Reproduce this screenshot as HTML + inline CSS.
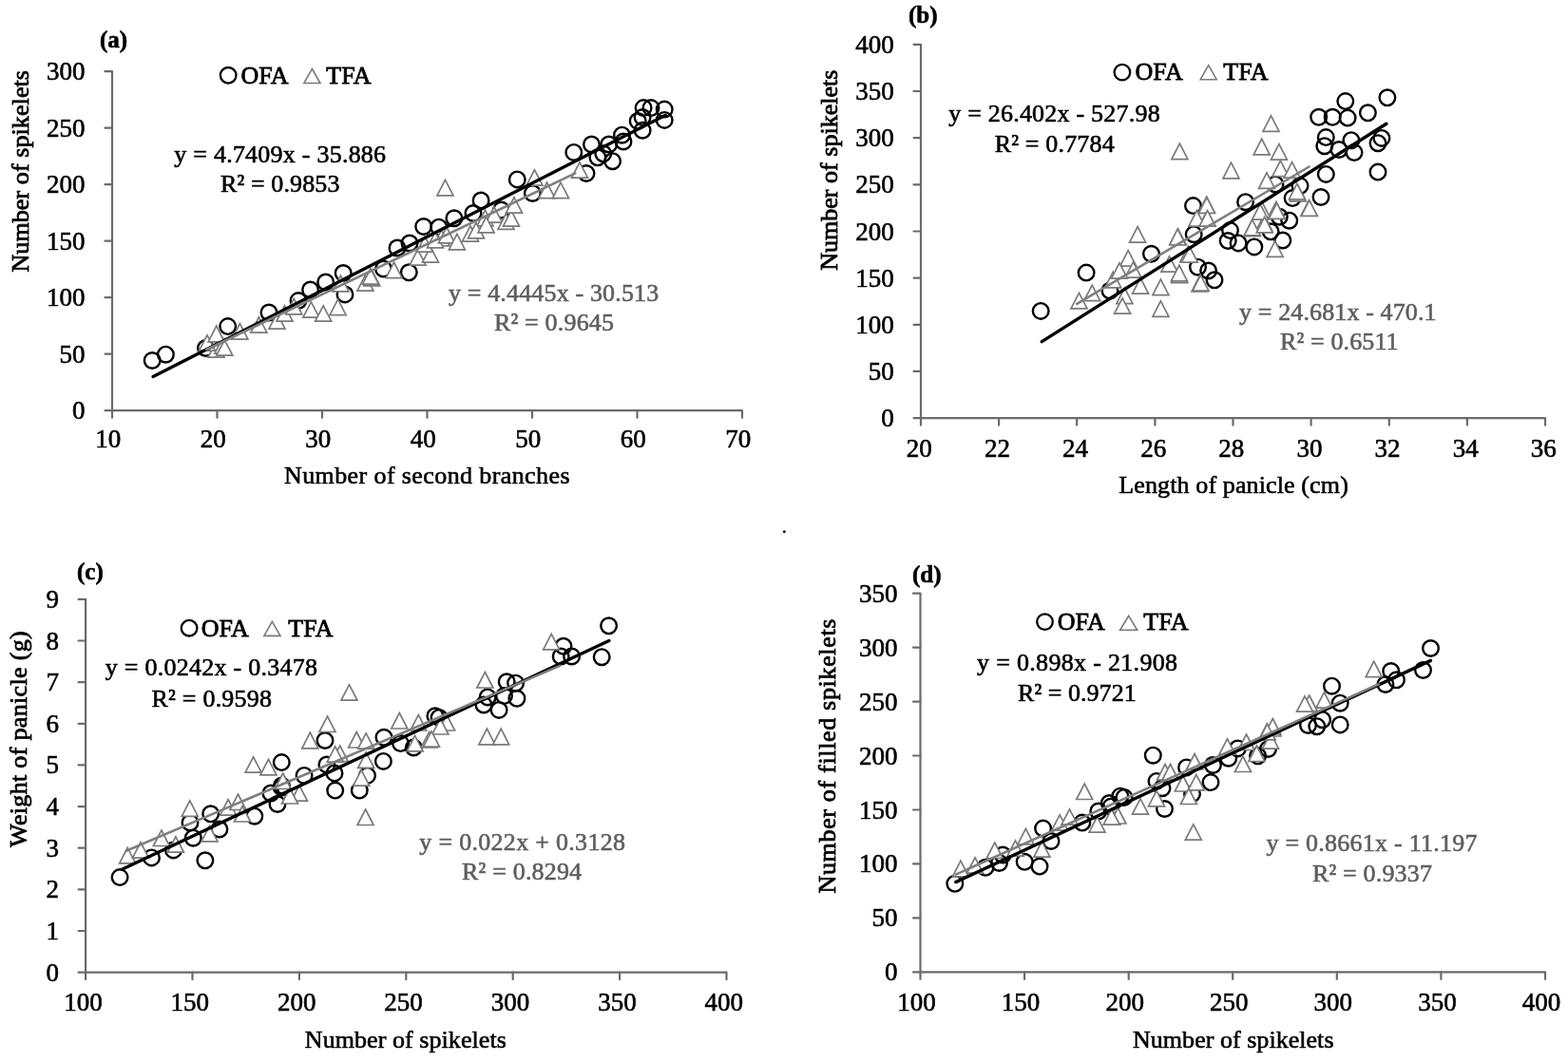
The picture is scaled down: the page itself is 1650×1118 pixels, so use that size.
<!DOCTYPE html>
<html><head><meta charset="utf-8"><title>Figure</title>
<style>html,body{margin:0;padding:0;background:#fff;}svg{display:block;}</style>
</head><body>
<svg width="1650" height="1118" viewBox="0 0 1650 1118" font-family='"Liberation Serif", "Times New Roman", serif'>
<rect width="1650" height="1118" fill="#fff"/>
<path d="M118.0 75.2V432.2H781.0" fill="none" stroke="#6b6b6b" stroke-width="2.2"/>
<path d="M110.5 432.2H118.0M110.5 372.7H118.0M110.5 313.2H118.0M110.5 253.7H118.0M110.5 194.2H118.0M110.5 134.7H118.0M110.5 75.2H118.0M118.0 432.2V439.7M228.5 432.2V439.7M339.0 432.2V439.7M449.5 432.2V439.7M560.0 432.2V439.7M670.5 432.2V439.7M781.0 432.2V439.7" fill="none" stroke="#6b6b6b" stroke-width="2.2" stroke-linecap="round"/>
<text x="89.5" y="441.2" font-size="27" fill="#000" text-anchor="end" stroke="#000" stroke-width="0.6">0</text>
<text x="89.5" y="381.7" font-size="27" fill="#000" text-anchor="end" stroke="#000" stroke-width="0.6">50</text>
<text x="89.5" y="322.2" font-size="27" fill="#000" text-anchor="end" stroke="#000" stroke-width="0.6">100</text>
<text x="89.5" y="262.7" font-size="27" fill="#000" text-anchor="end" stroke="#000" stroke-width="0.6">150</text>
<text x="89.5" y="203.2" font-size="27" fill="#000" text-anchor="end" stroke="#000" stroke-width="0.6">200</text>
<text x="89.5" y="143.7" font-size="27" fill="#000" text-anchor="end" stroke="#000" stroke-width="0.6">250</text>
<text x="89.5" y="84.2" font-size="27" fill="#000" text-anchor="end" stroke="#000" stroke-width="0.6">300</text>
<text x="113.8" y="471.3" font-size="27" fill="#000" text-anchor="middle" stroke="#000" stroke-width="0.6">10</text>
<text x="224.3" y="471.3" font-size="27" fill="#000" text-anchor="middle" stroke="#000" stroke-width="0.6">20</text>
<text x="334.8" y="471.3" font-size="27" fill="#000" text-anchor="middle" stroke="#000" stroke-width="0.6">30</text>
<text x="445.3" y="471.3" font-size="27" fill="#000" text-anchor="middle" stroke="#000" stroke-width="0.6">40</text>
<text x="555.8" y="471.3" font-size="27" fill="#000" text-anchor="middle" stroke="#000" stroke-width="0.6">50</text>
<text x="666.3" y="471.3" font-size="27" fill="#000" text-anchor="middle" stroke="#000" stroke-width="0.6">60</text>
<text x="776.8" y="471.3" font-size="27" fill="#000" text-anchor="middle" stroke="#000" stroke-width="0.6">70</text>
<text x="105.0" y="50.0" font-size="25" font-weight="bold" fill="#000" stroke="#000" stroke-width="0.6">(a)</text>
<text x="299.0" y="509.0" font-size="26" fill="#000" textLength="300.5" lengthAdjust="spacing" stroke="#000" stroke-width="0.6">Number of second branches</text>
<text transform="translate(29.5,286.5) rotate(-90)" font-size="26" textLength="212.5" lengthAdjust="spacing" stroke="#000" stroke-width="0.8">Number of spikelets</text>
<path d="M969.0 46.8V440.1H1626.0" fill="none" stroke="#6b6b6b" stroke-width="2.2"/>
<path d="M961.5 440.1H969.0M961.5 390.9H969.0M961.5 341.8H969.0M961.5 292.6H969.0M961.5 243.5H969.0M961.5 194.3H969.0M961.5 145.1H969.0M961.5 96.0H969.0M961.5 46.8H969.0M969.0 440.1V447.6M1051.1 440.1V447.6M1133.2 440.1V447.6M1215.4 440.1V447.6M1297.5 440.1V447.6M1379.6 440.1V447.6M1461.8 440.1V447.6M1543.9 440.1V447.6M1626.0 440.1V447.6" fill="none" stroke="#6b6b6b" stroke-width="2.2" stroke-linecap="round"/>
<text x="940.7" y="449.1" font-size="27" fill="#000" text-anchor="end" stroke="#000" stroke-width="0.6">0</text>
<text x="940.7" y="399.9" font-size="27" fill="#000" text-anchor="end" stroke="#000" stroke-width="0.6">50</text>
<text x="940.7" y="350.8" font-size="27" fill="#000" text-anchor="end" stroke="#000" stroke-width="0.6">100</text>
<text x="940.7" y="301.6" font-size="27" fill="#000" text-anchor="end" stroke="#000" stroke-width="0.6">150</text>
<text x="940.7" y="252.5" font-size="27" fill="#000" text-anchor="end" stroke="#000" stroke-width="0.6">200</text>
<text x="940.7" y="203.3" font-size="27" fill="#000" text-anchor="end" stroke="#000" stroke-width="0.6">250</text>
<text x="940.7" y="154.1" font-size="27" fill="#000" text-anchor="end" stroke="#000" stroke-width="0.6">300</text>
<text x="940.7" y="105.0" font-size="27" fill="#000" text-anchor="end" stroke="#000" stroke-width="0.6">350</text>
<text x="940.7" y="55.8" font-size="27" fill="#000" text-anchor="end" stroke="#000" stroke-width="0.6">400</text>
<text x="967.3" y="481.0" font-size="27" fill="#000" text-anchor="middle" stroke="#000" stroke-width="0.6">20</text>
<text x="1049.4" y="481.0" font-size="27" fill="#000" text-anchor="middle" stroke="#000" stroke-width="0.6">22</text>
<text x="1131.5" y="481.0" font-size="27" fill="#000" text-anchor="middle" stroke="#000" stroke-width="0.6">24</text>
<text x="1213.7" y="481.0" font-size="27" fill="#000" text-anchor="middle" stroke="#000" stroke-width="0.6">26</text>
<text x="1295.8" y="481.0" font-size="27" fill="#000" text-anchor="middle" stroke="#000" stroke-width="0.6">28</text>
<text x="1377.9" y="481.0" font-size="27" fill="#000" text-anchor="middle" stroke="#000" stroke-width="0.6">30</text>
<text x="1460.0" y="481.0" font-size="27" fill="#000" text-anchor="middle" stroke="#000" stroke-width="0.6">32</text>
<text x="1542.2" y="481.0" font-size="27" fill="#000" text-anchor="middle" stroke="#000" stroke-width="0.6">34</text>
<text x="1624.3" y="481.0" font-size="27" fill="#000" text-anchor="middle" stroke="#000" stroke-width="0.6">36</text>
<text x="956.0" y="23.5" font-size="25" font-weight="bold" fill="#000" stroke="#000" stroke-width="0.6">(b)</text>
<text x="1177.3" y="518.7" font-size="26" fill="#000" textLength="241.5" lengthAdjust="spacing" stroke="#000" stroke-width="0.6">Length of panicle (cm)</text>
<text transform="translate(880.5,284.8) rotate(-90)" font-size="26" textLength="211.3" lengthAdjust="spacing" stroke="#000" stroke-width="0.8">Number of spikelets</text>
<path d="M90.1 630.9V1023.6H764.5" fill="none" stroke="#6b6b6b" stroke-width="2.2"/>
<path d="M82.6 1023.6H90.1M82.6 980.0H90.1M82.6 936.3H90.1M82.6 892.7H90.1M82.6 849.1H90.1M82.6 805.4H90.1M82.6 761.8H90.1M82.6 718.2H90.1M82.6 674.5H90.1M82.6 630.9H90.1M90.1 1023.6V1031.1M202.5 1023.6V1031.1M314.9 1023.6V1031.1M427.3 1023.6V1031.1M539.7 1023.6V1031.1M652.1 1023.6V1031.1M764.5 1023.6V1031.1" fill="none" stroke="#6b6b6b" stroke-width="2.2" stroke-linecap="round"/>
<text x="62.0" y="1032.6" font-size="27" fill="#000" text-anchor="end" stroke="#000" stroke-width="0.6">0</text>
<text x="62.0" y="989.0" font-size="27" fill="#000" text-anchor="end" stroke="#000" stroke-width="0.6">1</text>
<text x="62.0" y="945.3" font-size="27" fill="#000" text-anchor="end" stroke="#000" stroke-width="0.6">2</text>
<text x="62.0" y="901.7" font-size="27" fill="#000" text-anchor="end" stroke="#000" stroke-width="0.6">3</text>
<text x="62.0" y="858.1" font-size="27" fill="#000" text-anchor="end" stroke="#000" stroke-width="0.6">4</text>
<text x="62.0" y="814.4" font-size="27" fill="#000" text-anchor="end" stroke="#000" stroke-width="0.6">5</text>
<text x="62.0" y="770.8" font-size="27" fill="#000" text-anchor="end" stroke="#000" stroke-width="0.6">6</text>
<text x="62.0" y="727.2" font-size="27" fill="#000" text-anchor="end" stroke="#000" stroke-width="0.6">7</text>
<text x="62.0" y="683.5" font-size="27" fill="#000" text-anchor="end" stroke="#000" stroke-width="0.6">8</text>
<text x="62.0" y="639.9" font-size="27" fill="#000" text-anchor="end" stroke="#000" stroke-width="0.6">9</text>
<text x="87.4" y="1064.4" font-size="27" fill="#000" text-anchor="middle" stroke="#000" stroke-width="0.6">100</text>
<text x="199.8" y="1064.4" font-size="27" fill="#000" text-anchor="middle" stroke="#000" stroke-width="0.6">150</text>
<text x="312.2" y="1064.4" font-size="27" fill="#000" text-anchor="middle" stroke="#000" stroke-width="0.6">200</text>
<text x="424.6" y="1064.4" font-size="27" fill="#000" text-anchor="middle" stroke="#000" stroke-width="0.6">250</text>
<text x="537.0" y="1064.4" font-size="27" fill="#000" text-anchor="middle" stroke="#000" stroke-width="0.6">300</text>
<text x="649.4" y="1064.4" font-size="27" fill="#000" text-anchor="middle" stroke="#000" stroke-width="0.6">350</text>
<text x="761.8" y="1064.4" font-size="27" fill="#000" text-anchor="middle" stroke="#000" stroke-width="0.6">400</text>
<text x="81.0" y="610.4" font-size="25" font-weight="bold" fill="#000" stroke="#000" stroke-width="0.6">(c)</text>
<text x="320.8" y="1102.5" font-size="26" fill="#000" textLength="212.0" lengthAdjust="spacing" stroke="#000" stroke-width="0.6">Number of spikelets</text>
<text transform="translate(27.5,891.9) rotate(-90)" font-size="26" textLength="227.6" lengthAdjust="spacing" stroke="#000" stroke-width="0.8">Weight of panicle (g)</text>
<path d="M968.5 624.7V1023.3H1626.0" fill="none" stroke="#6b6b6b" stroke-width="2.2"/>
<path d="M961.0 1023.3H968.5M961.0 966.4H968.5M961.0 909.4H968.5M961.0 852.5H968.5M961.0 795.5H968.5M961.0 738.6H968.5M961.0 681.6H968.5M961.0 624.7H968.5M968.5 1023.3V1030.8M1078.1 1023.3V1030.8M1187.7 1023.3V1030.8M1297.2 1023.3V1030.8M1406.8 1023.3V1030.8M1516.4 1023.3V1030.8M1626.0 1023.3V1030.8" fill="none" stroke="#6b6b6b" stroke-width="2.2" stroke-linecap="round"/>
<text x="944.5" y="1032.3" font-size="27" fill="#000" text-anchor="end" stroke="#000" stroke-width="0.6">0</text>
<text x="944.5" y="975.4" font-size="27" fill="#000" text-anchor="end" stroke="#000" stroke-width="0.6">50</text>
<text x="944.5" y="918.4" font-size="27" fill="#000" text-anchor="end" stroke="#000" stroke-width="0.6">100</text>
<text x="944.5" y="861.5" font-size="27" fill="#000" text-anchor="end" stroke="#000" stroke-width="0.6">150</text>
<text x="944.5" y="804.5" font-size="27" fill="#000" text-anchor="end" stroke="#000" stroke-width="0.6">200</text>
<text x="944.5" y="747.6" font-size="27" fill="#000" text-anchor="end" stroke="#000" stroke-width="0.6">250</text>
<text x="944.5" y="690.6" font-size="27" fill="#000" text-anchor="end" stroke="#000" stroke-width="0.6">300</text>
<text x="944.5" y="633.7" font-size="27" fill="#000" text-anchor="end" stroke="#000" stroke-width="0.6">350</text>
<text x="964.5" y="1064.4" font-size="27" fill="#000" text-anchor="middle" stroke="#000" stroke-width="0.6">100</text>
<text x="1074.1" y="1064.4" font-size="27" fill="#000" text-anchor="middle" stroke="#000" stroke-width="0.6">150</text>
<text x="1183.7" y="1064.4" font-size="27" fill="#000" text-anchor="middle" stroke="#000" stroke-width="0.6">200</text>
<text x="1293.2" y="1064.4" font-size="27" fill="#000" text-anchor="middle" stroke="#000" stroke-width="0.6">250</text>
<text x="1402.8" y="1064.4" font-size="27" fill="#000" text-anchor="middle" stroke="#000" stroke-width="0.6">300</text>
<text x="1512.4" y="1064.4" font-size="27" fill="#000" text-anchor="middle" stroke="#000" stroke-width="0.6">350</text>
<text x="1622.0" y="1064.4" font-size="27" fill="#000" text-anchor="middle" stroke="#000" stroke-width="0.6">400</text>
<text x="960.0" y="612.6" font-size="25" font-weight="bold" fill="#000" stroke="#000" stroke-width="0.6">(d)</text>
<text x="1192.0" y="1102.5" font-size="26" fill="#000" textLength="211.5" lengthAdjust="spacing" stroke="#000" stroke-width="0.6">Number of spikelets</text>
<text transform="translate(879.0,940.5) rotate(-90)" font-size="26" textLength="289.0" lengthAdjust="spacing" stroke="#000" stroke-width="0.8">Number of filled  spikelets</text>
<circle cx="160.2" cy="379.5" r="8.3" fill="none" stroke="#000" stroke-width="2.4"/>
<circle cx="174.4" cy="373.2" r="8.3" fill="none" stroke="#000" stroke-width="2.4"/>
<circle cx="216.5" cy="366.5" r="8.3" fill="none" stroke="#000" stroke-width="2.4"/>
<circle cx="239.7" cy="343.6" r="8.3" fill="none" stroke="#000" stroke-width="2.4"/>
<circle cx="283.0" cy="329.0" r="8.3" fill="none" stroke="#000" stroke-width="2.4"/>
<circle cx="314.0" cy="316.6" r="8.3" fill="none" stroke="#000" stroke-width="2.4"/>
<circle cx="326.6" cy="305.0" r="8.3" fill="none" stroke="#000" stroke-width="2.4"/>
<circle cx="342.7" cy="297.0" r="8.3" fill="none" stroke="#000" stroke-width="2.4"/>
<circle cx="361.2" cy="287.5" r="8.3" fill="none" stroke="#000" stroke-width="2.4"/>
<circle cx="363.0" cy="309.9" r="8.3" fill="none" stroke="#000" stroke-width="2.4"/>
<circle cx="403.5" cy="283.0" r="8.3" fill="none" stroke="#000" stroke-width="2.4"/>
<circle cx="418.0" cy="261.0" r="8.3" fill="none" stroke="#000" stroke-width="2.4"/>
<circle cx="431.0" cy="256.0" r="8.3" fill="none" stroke="#000" stroke-width="2.4"/>
<circle cx="430.3" cy="286.8" r="8.3" fill="none" stroke="#000" stroke-width="2.4"/>
<circle cx="445.7" cy="238.5" r="8.3" fill="none" stroke="#000" stroke-width="2.4"/>
<circle cx="461.8" cy="239.2" r="8.3" fill="none" stroke="#000" stroke-width="2.4"/>
<circle cx="477.9" cy="229.8" r="8.3" fill="none" stroke="#000" stroke-width="2.4"/>
<circle cx="498.0" cy="224.5" r="8.3" fill="none" stroke="#000" stroke-width="2.4"/>
<circle cx="506.1" cy="211.0" r="8.3" fill="none" stroke="#000" stroke-width="2.4"/>
<circle cx="527.6" cy="221.1" r="8.3" fill="none" stroke="#000" stroke-width="2.4"/>
<circle cx="544.3" cy="188.9" r="8.3" fill="none" stroke="#000" stroke-width="2.4"/>
<circle cx="560.4" cy="203.5" r="8.3" fill="none" stroke="#000" stroke-width="2.4"/>
<circle cx="603.8" cy="160.4" r="8.3" fill="none" stroke="#000" stroke-width="2.4"/>
<circle cx="622.5" cy="152.0" r="8.3" fill="none" stroke="#000" stroke-width="2.4"/>
<circle cx="617.0" cy="182.5" r="8.3" fill="none" stroke="#000" stroke-width="2.4"/>
<circle cx="628.9" cy="165.8" r="8.3" fill="none" stroke="#000" stroke-width="2.4"/>
<circle cx="640.7" cy="152.0" r="8.3" fill="none" stroke="#000" stroke-width="2.4"/>
<circle cx="644.6" cy="169.7" r="8.3" fill="none" stroke="#000" stroke-width="2.4"/>
<circle cx="634.8" cy="161.8" r="8.3" fill="none" stroke="#000" stroke-width="2.4"/>
<circle cx="654.5" cy="142.2" r="8.3" fill="none" stroke="#000" stroke-width="2.4"/>
<circle cx="656.0" cy="149.0" r="8.3" fill="none" stroke="#000" stroke-width="2.4"/>
<circle cx="676.1" cy="137.2" r="8.3" fill="none" stroke="#000" stroke-width="2.4"/>
<circle cx="676.1" cy="123.5" r="8.3" fill="none" stroke="#000" stroke-width="2.4"/>
<circle cx="677.1" cy="113.6" r="8.3" fill="none" stroke="#000" stroke-width="2.4"/>
<circle cx="685.0" cy="113.6" r="8.3" fill="none" stroke="#000" stroke-width="2.4"/>
<circle cx="699.2" cy="115.1" r="8.3" fill="none" stroke="#000" stroke-width="2.4"/>
<circle cx="699.2" cy="126.4" r="8.3" fill="none" stroke="#000" stroke-width="2.4"/>
<circle cx="671.2" cy="127.4" r="8.3" fill="none" stroke="#000" stroke-width="2.4"/>
<circle cx="1095.2" cy="327.4" r="8.3" fill="none" stroke="#000" stroke-width="2.4"/>
<circle cx="1143.1" cy="287.1" r="8.3" fill="none" stroke="#000" stroke-width="2.4"/>
<circle cx="1211.5" cy="267.3" r="8.3" fill="none" stroke="#000" stroke-width="2.4"/>
<circle cx="1255.5" cy="216.6" r="8.3" fill="none" stroke="#000" stroke-width="2.4"/>
<circle cx="1256.2" cy="246.7" r="8.3" fill="none" stroke="#000" stroke-width="2.4"/>
<circle cx="1260.5" cy="281.2" r="8.3" fill="none" stroke="#000" stroke-width="2.4"/>
<circle cx="1271.6" cy="285.0" r="8.3" fill="none" stroke="#000" stroke-width="2.4"/>
<circle cx="1278.0" cy="294.8" r="8.3" fill="none" stroke="#000" stroke-width="2.4"/>
<circle cx="1168.0" cy="306.0" r="8.3" fill="none" stroke="#000" stroke-width="2.4"/>
<circle cx="1292.2" cy="253.5" r="8.3" fill="none" stroke="#000" stroke-width="2.4"/>
<circle cx="1303.1" cy="255.9" r="8.3" fill="none" stroke="#000" stroke-width="2.4"/>
<circle cx="1319.8" cy="259.9" r="8.3" fill="none" stroke="#000" stroke-width="2.4"/>
<circle cx="1337.1" cy="243.8" r="8.3" fill="none" stroke="#000" stroke-width="2.4"/>
<circle cx="1349.8" cy="253.0" r="8.3" fill="none" stroke="#000" stroke-width="2.4"/>
<circle cx="1346.3" cy="228.2" r="8.3" fill="none" stroke="#000" stroke-width="2.4"/>
<circle cx="1356.7" cy="232.2" r="8.3" fill="none" stroke="#000" stroke-width="2.4"/>
<circle cx="1360.1" cy="208.6" r="8.3" fill="none" stroke="#000" stroke-width="2.4"/>
<circle cx="1390.0" cy="207.5" r="8.3" fill="none" stroke="#000" stroke-width="2.4"/>
<circle cx="1310.6" cy="212.7" r="8.3" fill="none" stroke="#000" stroke-width="2.4"/>
<circle cx="1294.5" cy="242.6" r="8.3" fill="none" stroke="#000" stroke-width="2.4"/>
<circle cx="1415.8" cy="106.6" r="8.3" fill="none" stroke="#000" stroke-width="2.4"/>
<circle cx="1459.9" cy="102.8" r="8.3" fill="none" stroke="#000" stroke-width="2.4"/>
<circle cx="1387.7" cy="123.3" r="8.3" fill="none" stroke="#000" stroke-width="2.4"/>
<circle cx="1402.2" cy="123.3" r="8.3" fill="none" stroke="#000" stroke-width="2.4"/>
<circle cx="1418.1" cy="124.1" r="8.3" fill="none" stroke="#000" stroke-width="2.4"/>
<circle cx="1439.4" cy="118.8" r="8.3" fill="none" stroke="#000" stroke-width="2.4"/>
<circle cx="1395.3" cy="144.6" r="8.3" fill="none" stroke="#000" stroke-width="2.4"/>
<circle cx="1393.8" cy="153.7" r="8.3" fill="none" stroke="#000" stroke-width="2.4"/>
<circle cx="1421.9" cy="147.7" r="8.3" fill="none" stroke="#000" stroke-width="2.4"/>
<circle cx="1425.0" cy="160.6" r="8.3" fill="none" stroke="#000" stroke-width="2.4"/>
<circle cx="1450.0" cy="150.7" r="8.3" fill="none" stroke="#000" stroke-width="2.4"/>
<circle cx="1453.9" cy="145.4" r="8.3" fill="none" stroke="#000" stroke-width="2.4"/>
<circle cx="1450.0" cy="181.1" r="8.3" fill="none" stroke="#000" stroke-width="2.4"/>
<circle cx="1395.3" cy="183.4" r="8.3" fill="none" stroke="#000" stroke-width="2.4"/>
<circle cx="1409.0" cy="157.5" r="8.3" fill="none" stroke="#000" stroke-width="2.4"/>
<circle cx="1342.0" cy="194.0" r="8.3" fill="none" stroke="#000" stroke-width="2.4"/>
<circle cx="1368.0" cy="195.6" r="8.3" fill="none" stroke="#000" stroke-width="2.4"/>
<circle cx="126.1" cy="923.6" r="8.3" fill="none" stroke="#000" stroke-width="2.4"/>
<circle cx="215.9" cy="905.8" r="8.3" fill="none" stroke="#000" stroke-width="2.4"/>
<circle cx="221.7" cy="856.8" r="8.3" fill="none" stroke="#000" stroke-width="2.4"/>
<circle cx="230.9" cy="873.0" r="8.3" fill="none" stroke="#000" stroke-width="2.4"/>
<circle cx="203.3" cy="882.2" r="8.3" fill="none" stroke="#000" stroke-width="2.4"/>
<circle cx="200.0" cy="866.0" r="8.3" fill="none" stroke="#000" stroke-width="2.4"/>
<circle cx="159.5" cy="902.9" r="8.3" fill="none" stroke="#000" stroke-width="2.4"/>
<circle cx="182.5" cy="894.9" r="8.3" fill="none" stroke="#000" stroke-width="2.4"/>
<circle cx="267.8" cy="859.2" r="8.3" fill="none" stroke="#000" stroke-width="2.4"/>
<circle cx="285.0" cy="835.0" r="8.3" fill="none" stroke="#000" stroke-width="2.4"/>
<circle cx="292.0" cy="846.5" r="8.3" fill="none" stroke="#000" stroke-width="2.4"/>
<circle cx="296.5" cy="827.0" r="8.3" fill="none" stroke="#000" stroke-width="2.4"/>
<circle cx="296.3" cy="802.6" r="8.3" fill="none" stroke="#000" stroke-width="2.4"/>
<circle cx="320.1" cy="816.4" r="8.3" fill="none" stroke="#000" stroke-width="2.4"/>
<circle cx="296.3" cy="828.9" r="8.3" fill="none" stroke="#000" stroke-width="2.4"/>
<circle cx="342.0" cy="779.5" r="8.3" fill="none" stroke="#000" stroke-width="2.4"/>
<circle cx="352.0" cy="813.9" r="8.3" fill="none" stroke="#000" stroke-width="2.4"/>
<circle cx="352.7" cy="832.1" r="8.3" fill="none" stroke="#000" stroke-width="2.4"/>
<circle cx="343.9" cy="805.0" r="8.3" fill="none" stroke="#000" stroke-width="2.4"/>
<circle cx="378.3" cy="832.1" r="8.3" fill="none" stroke="#000" stroke-width="2.4"/>
<circle cx="386.5" cy="816.4" r="8.3" fill="none" stroke="#000" stroke-width="2.4"/>
<circle cx="403.4" cy="801.4" r="8.3" fill="none" stroke="#000" stroke-width="2.4"/>
<circle cx="404.0" cy="776.3" r="8.3" fill="none" stroke="#000" stroke-width="2.4"/>
<circle cx="421.5" cy="782.6" r="8.3" fill="none" stroke="#000" stroke-width="2.4"/>
<circle cx="435.3" cy="787.0" r="8.3" fill="none" stroke="#000" stroke-width="2.4"/>
<circle cx="457.9" cy="753.8" r="8.3" fill="none" stroke="#000" stroke-width="2.4"/>
<circle cx="640.6" cy="658.8" r="8.3" fill="none" stroke="#000" stroke-width="2.4"/>
<circle cx="633.2" cy="691.7" r="8.3" fill="none" stroke="#000" stroke-width="2.4"/>
<circle cx="592.9" cy="680.3" r="8.3" fill="none" stroke="#000" stroke-width="2.4"/>
<circle cx="601.6" cy="691.0" r="8.3" fill="none" stroke="#000" stroke-width="2.4"/>
<circle cx="590.2" cy="691.0" r="8.3" fill="none" stroke="#000" stroke-width="2.4"/>
<circle cx="533.2" cy="717.8" r="8.3" fill="none" stroke="#000" stroke-width="2.4"/>
<circle cx="542.6" cy="719.2" r="8.3" fill="none" stroke="#000" stroke-width="2.4"/>
<circle cx="513.1" cy="733.9" r="8.3" fill="none" stroke="#000" stroke-width="2.4"/>
<circle cx="530.5" cy="732.6" r="8.3" fill="none" stroke="#000" stroke-width="2.4"/>
<circle cx="543.9" cy="735.3" r="8.3" fill="none" stroke="#000" stroke-width="2.4"/>
<circle cx="525.1" cy="747.4" r="8.3" fill="none" stroke="#000" stroke-width="2.4"/>
<circle cx="509.0" cy="742.0" r="8.3" fill="none" stroke="#000" stroke-width="2.4"/>
<circle cx="462.1" cy="755.4" r="8.3" fill="none" stroke="#000" stroke-width="2.4"/>
<circle cx="1004.8" cy="930.3" r="8.3" fill="none" stroke="#000" stroke-width="2.4"/>
<circle cx="1037.0" cy="913.3" r="8.3" fill="none" stroke="#000" stroke-width="2.4"/>
<circle cx="1055.2" cy="900.0" r="8.3" fill="none" stroke="#000" stroke-width="2.4"/>
<circle cx="1051.5" cy="908.5" r="8.3" fill="none" stroke="#000" stroke-width="2.4"/>
<circle cx="1078.2" cy="907.3" r="8.3" fill="none" stroke="#000" stroke-width="2.4"/>
<circle cx="1094.0" cy="912.1" r="8.3" fill="none" stroke="#000" stroke-width="2.4"/>
<circle cx="1097.6" cy="872.1" r="8.3" fill="none" stroke="#000" stroke-width="2.4"/>
<circle cx="1106.0" cy="885.5" r="8.3" fill="none" stroke="#000" stroke-width="2.4"/>
<circle cx="1138.8" cy="866.1" r="8.3" fill="none" stroke="#000" stroke-width="2.4"/>
<circle cx="1155.8" cy="854.0" r="8.3" fill="none" stroke="#000" stroke-width="2.4"/>
<circle cx="1169.1" cy="849.1" r="8.3" fill="none" stroke="#000" stroke-width="2.4"/>
<circle cx="1178.8" cy="838.2" r="8.3" fill="none" stroke="#000" stroke-width="2.4"/>
<circle cx="1213.3" cy="795.2" r="8.3" fill="none" stroke="#000" stroke-width="2.4"/>
<circle cx="1183.0" cy="839.4" r="8.3" fill="none" stroke="#000" stroke-width="2.4"/>
<circle cx="1167.3" cy="845.5" r="8.3" fill="none" stroke="#000" stroke-width="2.4"/>
<circle cx="1225.5" cy="851.5" r="8.3" fill="none" stroke="#000" stroke-width="2.4"/>
<circle cx="1223.0" cy="829.7" r="8.3" fill="none" stroke="#000" stroke-width="2.4"/>
<circle cx="1248.5" cy="807.9" r="8.3" fill="none" stroke="#000" stroke-width="2.4"/>
<circle cx="1254.5" cy="835.8" r="8.3" fill="none" stroke="#000" stroke-width="2.4"/>
<circle cx="1274.0" cy="823.6" r="8.3" fill="none" stroke="#000" stroke-width="2.4"/>
<circle cx="1276.4" cy="805.5" r="8.3" fill="none" stroke="#000" stroke-width="2.4"/>
<circle cx="1292.7" cy="798.2" r="8.3" fill="none" stroke="#000" stroke-width="2.4"/>
<circle cx="1302.4" cy="787.9" r="8.3" fill="none" stroke="#000" stroke-width="2.4"/>
<circle cx="1323.6" cy="795.8" r="8.3" fill="none" stroke="#000" stroke-width="2.4"/>
<circle cx="1334.5" cy="788.5" r="8.3" fill="none" stroke="#000" stroke-width="2.4"/>
<circle cx="1217.0" cy="822.4" r="8.3" fill="none" stroke="#000" stroke-width="2.4"/>
<circle cx="1401.5" cy="722.2" r="8.3" fill="none" stroke="#000" stroke-width="2.4"/>
<circle cx="1410.2" cy="740.2" r="8.3" fill="none" stroke="#000" stroke-width="2.4"/>
<circle cx="1410.2" cy="762.9" r="8.3" fill="none" stroke="#000" stroke-width="2.4"/>
<circle cx="1391.6" cy="757.7" r="8.3" fill="none" stroke="#000" stroke-width="2.4"/>
<circle cx="1376.5" cy="763.5" r="8.3" fill="none" stroke="#000" stroke-width="2.4"/>
<circle cx="1385.8" cy="764.7" r="8.3" fill="none" stroke="#000" stroke-width="2.4"/>
<circle cx="1463.7" cy="706.5" r="8.3" fill="none" stroke="#000" stroke-width="2.4"/>
<circle cx="1469.5" cy="715.8" r="8.3" fill="none" stroke="#000" stroke-width="2.4"/>
<circle cx="1457.9" cy="720.5" r="8.3" fill="none" stroke="#000" stroke-width="2.4"/>
<circle cx="1497.5" cy="705.5" r="8.3" fill="none" stroke="#000" stroke-width="2.4"/>
<circle cx="1505.5" cy="682.5" r="8.3" fill="none" stroke="#000" stroke-width="2.4"/>
<path d="M227.5 359.8L236.0 376.2H219.0Z" fill="#fff" stroke="#7a7a7a" stroke-width="1.7"/>
<path d="M234.4 355.8L242.9 372.2H225.9Z" fill="#fff" stroke="#7a7a7a" stroke-width="1.7"/>
<path d="M236.3 357.8L244.8 374.2H227.8Z" fill="#fff" stroke="#7a7a7a" stroke-width="1.7"/>
<path d="M218.0 352.8L226.5 369.2H209.5Z" fill="#fff" stroke="#7a7a7a" stroke-width="1.7"/>
<path d="M227.7 343.2L236.2 359.8H219.2Z" fill="#fff" stroke="#7a7a7a" stroke-width="1.7"/>
<path d="M252.4 340.6L260.9 357.1H243.9Z" fill="#fff" stroke="#7a7a7a" stroke-width="1.7"/>
<path d="M272.4 333.8L280.9 350.2H263.9Z" fill="#fff" stroke="#7a7a7a" stroke-width="1.7"/>
<path d="M291.5 329.8L300.0 346.2H283.0Z" fill="#fff" stroke="#7a7a7a" stroke-width="1.7"/>
<path d="M299.5 321.8L308.0 338.2H291.0Z" fill="#fff" stroke="#7a7a7a" stroke-width="1.7"/>
<path d="M309.3 314.4L317.8 330.9H300.8Z" fill="#fff" stroke="#7a7a7a" stroke-width="1.7"/>
<path d="M327.4 317.8L335.9 334.2H318.9Z" fill="#fff" stroke="#7a7a7a" stroke-width="1.7"/>
<path d="M340.2 321.8L348.7 338.2H331.7Z" fill="#fff" stroke="#7a7a7a" stroke-width="1.7"/>
<path d="M355.6 315.1L364.1 331.6H347.1Z" fill="#fff" stroke="#7a7a7a" stroke-width="1.7"/>
<path d="M358.5 290.2L367.0 306.8H350.0Z" fill="#fff" stroke="#7a7a7a" stroke-width="1.7"/>
<path d="M384.4 289.8L392.9 306.2H375.9Z" fill="#fff" stroke="#7a7a7a" stroke-width="1.7"/>
<path d="M391.2 284.2L399.7 300.8H382.7Z" fill="#fff" stroke="#7a7a7a" stroke-width="1.7"/>
<path d="M414.6 276.1L423.1 292.6H406.1Z" fill="#fff" stroke="#7a7a7a" stroke-width="1.7"/>
<path d="M390.0 282.8L398.5 299.2H381.5Z" fill="#fff" stroke="#7a7a7a" stroke-width="1.7"/>
<path d="M439.6 262.6L448.1 279.1H431.1Z" fill="#fff" stroke="#7a7a7a" stroke-width="1.7"/>
<path d="M453.0 259.8L461.5 276.2H444.5Z" fill="#fff" stroke="#7a7a7a" stroke-width="1.7"/>
<path d="M464.5 242.2L473.0 258.8H456.0Z" fill="#fff" stroke="#7a7a7a" stroke-width="1.7"/>
<path d="M447.0 248.8L455.5 265.2H438.5Z" fill="#fff" stroke="#7a7a7a" stroke-width="1.7"/>
<path d="M458.0 244.2L466.5 260.8H449.5Z" fill="#fff" stroke="#7a7a7a" stroke-width="1.7"/>
<path d="M470.0 239.2L478.5 255.8H461.5Z" fill="#fff" stroke="#7a7a7a" stroke-width="1.7"/>
<path d="M510.5 221.2L519.0 237.8H502.0Z" fill="#fff" stroke="#7a7a7a" stroke-width="1.7"/>
<path d="M520.0 217.8L528.5 234.2H511.5Z" fill="#fff" stroke="#7a7a7a" stroke-width="1.7"/>
<path d="M480.9 246.4L489.4 262.9H472.4Z" fill="#fff" stroke="#7a7a7a" stroke-width="1.7"/>
<path d="M495.0 237.8L503.5 254.2H486.5Z" fill="#fff" stroke="#7a7a7a" stroke-width="1.7"/>
<path d="M501.0 234.3L509.5 250.8H492.5Z" fill="#fff" stroke="#7a7a7a" stroke-width="1.7"/>
<path d="M511.6 228.3L520.1 244.8H503.1Z" fill="#fff" stroke="#7a7a7a" stroke-width="1.7"/>
<path d="M532.5 224.9L541.0 241.4H524.0Z" fill="#fff" stroke="#7a7a7a" stroke-width="1.7"/>
<path d="M538.0 221.7L546.5 238.2H529.5Z" fill="#fff" stroke="#7a7a7a" stroke-width="1.7"/>
<path d="M541.0 207.6L549.5 224.1H532.5Z" fill="#fff" stroke="#7a7a7a" stroke-width="1.7"/>
<path d="M562.5 178.8L571.0 195.2H554.0Z" fill="#fff" stroke="#7a7a7a" stroke-width="1.7"/>
<path d="M575.5 192.2L584.0 208.7H567.0Z" fill="#fff" stroke="#7a7a7a" stroke-width="1.7"/>
<path d="M590.0 192.2L598.5 208.7H581.5Z" fill="#fff" stroke="#7a7a7a" stroke-width="1.7"/>
<path d="M610.0 170.8L618.5 187.2H601.5Z" fill="#fff" stroke="#7a7a7a" stroke-width="1.7"/>
<path d="M468.5 189.3L477.0 205.8H460.0Z" fill="#fff" stroke="#7a7a7a" stroke-width="1.7"/>
<path d="M1135.5 308.4L1144.0 324.9H1127.0Z" fill="#fff" stroke="#7a7a7a" stroke-width="1.7"/>
<path d="M1149.2 300.1L1157.7 316.6H1140.7Z" fill="#fff" stroke="#7a7a7a" stroke-width="1.7"/>
<path d="M1197.1 238.6L1205.6 255.1H1188.6Z" fill="#fff" stroke="#7a7a7a" stroke-width="1.7"/>
<path d="M1187.2 263.6L1195.7 280.1H1178.7Z" fill="#fff" stroke="#7a7a7a" stroke-width="1.7"/>
<path d="M1192.5 275.8L1201.0 292.2H1184.0Z" fill="#fff" stroke="#7a7a7a" stroke-width="1.7"/>
<path d="M1200.1 292.6L1208.6 309.1H1191.6Z" fill="#fff" stroke="#7a7a7a" stroke-width="1.7"/>
<path d="M1183.4 303.1L1191.9 319.6H1174.9Z" fill="#fff" stroke="#7a7a7a" stroke-width="1.7"/>
<path d="M1181.1 313.8L1189.6 330.2H1172.6Z" fill="#fff" stroke="#7a7a7a" stroke-width="1.7"/>
<path d="M1221.4 294.1L1229.9 310.6H1212.9Z" fill="#fff" stroke="#7a7a7a" stroke-width="1.7"/>
<path d="M1221.4 316.9L1229.9 333.4H1212.9Z" fill="#fff" stroke="#7a7a7a" stroke-width="1.7"/>
<path d="M1239.6 240.8L1248.1 257.2H1231.1Z" fill="#fff" stroke="#7a7a7a" stroke-width="1.7"/>
<path d="M1241.2 281.1L1249.7 297.6H1232.7Z" fill="#fff" stroke="#7a7a7a" stroke-width="1.7"/>
<path d="M1230.5 269.8L1239.0 286.2H1222.0Z" fill="#fff" stroke="#7a7a7a" stroke-width="1.7"/>
<path d="M1250.3 259.1L1258.8 275.6H1241.8Z" fill="#fff" stroke="#7a7a7a" stroke-width="1.7"/>
<path d="M1262.5 290.2L1271.0 306.8H1254.0Z" fill="#fff" stroke="#7a7a7a" stroke-width="1.7"/>
<path d="M1171.2 286.4L1179.7 302.9H1162.7Z" fill="#fff" stroke="#7a7a7a" stroke-width="1.7"/>
<path d="M1178.0 276.8L1186.5 293.2H1169.5Z" fill="#fff" stroke="#7a7a7a" stroke-width="1.7"/>
<path d="M1241.4 151.1L1249.9 167.6H1232.9Z" fill="#fff" stroke="#7a7a7a" stroke-width="1.7"/>
<path d="M1295.5 171.2L1304.0 187.8H1287.0Z" fill="#fff" stroke="#7a7a7a" stroke-width="1.7"/>
<path d="M1269.7 207.2L1278.2 223.8H1261.2Z" fill="#fff" stroke="#7a7a7a" stroke-width="1.7"/>
<path d="M1270.3 221.7L1278.8 238.2H1261.8Z" fill="#fff" stroke="#7a7a7a" stroke-width="1.7"/>
<path d="M1259.4 221.7L1267.9 238.2H1250.9Z" fill="#fff" stroke="#7a7a7a" stroke-width="1.7"/>
<path d="M1239.2 241.2L1247.7 257.8H1230.7Z" fill="#fff" stroke="#7a7a7a" stroke-width="1.7"/>
<path d="M1251.9 259.8L1260.4 276.2H1243.4Z" fill="#fff" stroke="#7a7a7a" stroke-width="1.7"/>
<path d="M1240.9 279.2L1249.4 295.8H1232.4Z" fill="#fff" stroke="#7a7a7a" stroke-width="1.7"/>
<path d="M1263.4 289.6L1271.9 306.1H1254.9Z" fill="#fff" stroke="#7a7a7a" stroke-width="1.7"/>
<path d="M1317.5 232.1L1326.0 248.6H1309.0Z" fill="#fff" stroke="#7a7a7a" stroke-width="1.7"/>
<path d="M1330.2 226.2L1338.7 242.8H1321.7Z" fill="#fff" stroke="#7a7a7a" stroke-width="1.7"/>
<path d="M1342.9 212.4L1351.4 228.9H1334.4Z" fill="#fff" stroke="#7a7a7a" stroke-width="1.7"/>
<path d="M1327.9 212.4L1336.4 228.9H1319.4Z" fill="#fff" stroke="#7a7a7a" stroke-width="1.7"/>
<path d="M1341.7 253.9L1350.2 270.4H1333.2Z" fill="#fff" stroke="#7a7a7a" stroke-width="1.7"/>
<path d="M1377.4 210.8L1385.9 227.2H1368.9Z" fill="#fff" stroke="#7a7a7a" stroke-width="1.7"/>
<path d="M1365.9 195.2L1374.4 211.8H1357.4Z" fill="#fff" stroke="#7a7a7a" stroke-width="1.7"/>
<path d="M1337.5 121.9L1346.0 138.4H1329.0Z" fill="#fff" stroke="#7a7a7a" stroke-width="1.7"/>
<path d="M1327.7 146.2L1336.2 162.8H1319.2Z" fill="#fff" stroke="#7a7a7a" stroke-width="1.7"/>
<path d="M1345.9 151.6L1354.4 168.1H1337.4Z" fill="#fff" stroke="#7a7a7a" stroke-width="1.7"/>
<path d="M1347.4 169.1L1355.9 185.6H1338.9Z" fill="#fff" stroke="#7a7a7a" stroke-width="1.7"/>
<path d="M1359.6 170.6L1368.1 187.1H1351.1Z" fill="#fff" stroke="#7a7a7a" stroke-width="1.7"/>
<path d="M1333.0 181.9L1341.5 198.4H1324.5Z" fill="#fff" stroke="#7a7a7a" stroke-width="1.7"/>
<path d="M1364.9 193.3L1373.4 209.8H1356.4Z" fill="#fff" stroke="#7a7a7a" stroke-width="1.7"/>
<path d="M1377.8 210.8L1386.3 227.3H1369.3Z" fill="#fff" stroke="#7a7a7a" stroke-width="1.7"/>
<path d="M1269.9 207.8L1278.4 224.3H1261.4Z" fill="#fff" stroke="#7a7a7a" stroke-width="1.7"/>
<path d="M1343.6 213.9L1352.1 230.4H1335.1Z" fill="#fff" stroke="#7a7a7a" stroke-width="1.7"/>
<path d="M1326.1 214.8L1334.6 231.2H1317.6Z" fill="#fff" stroke="#7a7a7a" stroke-width="1.7"/>
<path d="M1270.6 221.6L1279.1 238.1H1262.1Z" fill="#fff" stroke="#7a7a7a" stroke-width="1.7"/>
<path d="M1317.8 231.3L1326.3 247.8H1309.3Z" fill="#fff" stroke="#7a7a7a" stroke-width="1.7"/>
<path d="M1330.7 228.3L1339.2 244.8H1322.2Z" fill="#fff" stroke="#7a7a7a" stroke-width="1.7"/>
<path d="M134.2 892.4L142.7 908.9H125.7Z" fill="#fff" stroke="#7a7a7a" stroke-width="1.7"/>
<path d="M148.0 886.6L156.5 903.1H139.5Z" fill="#fff" stroke="#7a7a7a" stroke-width="1.7"/>
<path d="M169.9 874.0L178.4 890.5H161.4Z" fill="#fff" stroke="#7a7a7a" stroke-width="1.7"/>
<path d="M184.9 880.8L193.4 897.2H176.4Z" fill="#fff" stroke="#7a7a7a" stroke-width="1.7"/>
<path d="M199.8 842.9L208.3 859.4H191.3Z" fill="#fff" stroke="#7a7a7a" stroke-width="1.7"/>
<path d="M220.5 869.4L229.0 885.9H212.0Z" fill="#fff" stroke="#7a7a7a" stroke-width="1.7"/>
<path d="M240.1 841.6L248.6 858.1H231.6Z" fill="#fff" stroke="#7a7a7a" stroke-width="1.7"/>
<path d="M250.5 836.0L259.0 852.5H242.0Z" fill="#fff" stroke="#7a7a7a" stroke-width="1.7"/>
<path d="M255.1 848.5L263.6 865.0H246.6Z" fill="#fff" stroke="#7a7a7a" stroke-width="1.7"/>
<path d="M297.7 814.0L306.2 830.5H289.2Z" fill="#fff" stroke="#7a7a7a" stroke-width="1.7"/>
<path d="M266.6 796.8L275.1 813.2H258.1Z" fill="#fff" stroke="#7a7a7a" stroke-width="1.7"/>
<path d="M344.5 754.0L353.0 770.5H336.0Z" fill="#fff" stroke="#7a7a7a" stroke-width="1.7"/>
<path d="M326.3 771.2L334.8 787.8H317.8Z" fill="#fff" stroke="#7a7a7a" stroke-width="1.7"/>
<path d="M357.7 785.0L366.2 801.5H349.2Z" fill="#fff" stroke="#7a7a7a" stroke-width="1.7"/>
<path d="M352.7 785.8L361.2 802.2H344.2Z" fill="#fff" stroke="#7a7a7a" stroke-width="1.7"/>
<path d="M375.2 770.5L383.7 787.0H366.7Z" fill="#fff" stroke="#7a7a7a" stroke-width="1.7"/>
<path d="M385.2 771.8L393.7 788.2H376.7Z" fill="#fff" stroke="#7a7a7a" stroke-width="1.7"/>
<path d="M385.2 791.9L393.7 808.4H376.7Z" fill="#fff" stroke="#7a7a7a" stroke-width="1.7"/>
<path d="M380.2 810.6L388.7 827.1H371.7Z" fill="#fff" stroke="#7a7a7a" stroke-width="1.7"/>
<path d="M384.6 852.0L393.1 868.5H376.1Z" fill="#fff" stroke="#7a7a7a" stroke-width="1.7"/>
<path d="M420.3 750.5L428.8 767.0H411.8Z" fill="#fff" stroke="#7a7a7a" stroke-width="1.7"/>
<path d="M440.3 752.5L448.8 769.0H431.8Z" fill="#fff" stroke="#7a7a7a" stroke-width="1.7"/>
<path d="M451.6 770.5L460.1 787.0H443.1Z" fill="#fff" stroke="#7a7a7a" stroke-width="1.7"/>
<path d="M436.6 774.4L445.1 790.9H428.1Z" fill="#fff" stroke="#7a7a7a" stroke-width="1.7"/>
<path d="M282.5 799.4L291.0 815.9H274.0Z" fill="#fff" stroke="#7a7a7a" stroke-width="1.7"/>
<path d="M315.0 826.8L323.5 843.2H306.5Z" fill="#fff" stroke="#7a7a7a" stroke-width="1.7"/>
<path d="M305.0 829.5L313.5 846.0H296.5Z" fill="#fff" stroke="#7a7a7a" stroke-width="1.7"/>
<path d="M580.2 667.4L588.7 683.9H571.7Z" fill="#fff" stroke="#7a7a7a" stroke-width="1.7"/>
<path d="M367.5 720.8L376.0 737.2H359.0Z" fill="#fff" stroke="#7a7a7a" stroke-width="1.7"/>
<path d="M510.4 707.5L518.9 724.0H501.9Z" fill="#fff" stroke="#7a7a7a" stroke-width="1.7"/>
<path d="M512.4 767.2L520.9 783.8H503.9Z" fill="#fff" stroke="#7a7a7a" stroke-width="1.7"/>
<path d="M527.2 767.2L535.7 783.8H518.7Z" fill="#fff" stroke="#7a7a7a" stroke-width="1.7"/>
<path d="M470.1 752.5L478.6 769.0H461.6Z" fill="#fff" stroke="#7a7a7a" stroke-width="1.7"/>
<path d="M463.4 756.5L471.9 773.0H454.9Z" fill="#fff" stroke="#7a7a7a" stroke-width="1.7"/>
<path d="M454.0 769.8L462.5 786.2H445.5Z" fill="#fff" stroke="#7a7a7a" stroke-width="1.7"/>
<path d="M1010.9 906.2L1019.4 922.8H1002.4Z" fill="#fff" stroke="#7a7a7a" stroke-width="1.7"/>
<path d="M1026.0 902.8L1034.5 919.2H1017.5Z" fill="#fff" stroke="#7a7a7a" stroke-width="1.7"/>
<path d="M1046.7 887.0L1055.2 903.5H1038.2Z" fill="#fff" stroke="#7a7a7a" stroke-width="1.7"/>
<path d="M1068.5 884.8L1077.0 901.2H1060.0Z" fill="#fff" stroke="#7a7a7a" stroke-width="1.7"/>
<path d="M1079.4 872.4L1087.9 888.9H1070.9Z" fill="#fff" stroke="#7a7a7a" stroke-width="1.7"/>
<path d="M1096.4 885.8L1104.9 902.2H1087.9Z" fill="#fff" stroke="#7a7a7a" stroke-width="1.7"/>
<path d="M1115.2 857.8L1123.7 874.2H1106.7Z" fill="#fff" stroke="#7a7a7a" stroke-width="1.7"/>
<path d="M1125.5 851.8L1134.0 868.2H1117.0Z" fill="#fff" stroke="#7a7a7a" stroke-width="1.7"/>
<path d="M1141.2 825.0L1149.7 841.5H1132.7Z" fill="#fff" stroke="#7a7a7a" stroke-width="1.7"/>
<path d="M1154.5 859.8L1163.0 876.2H1146.0Z" fill="#fff" stroke="#7a7a7a" stroke-width="1.7"/>
<path d="M1170.3 851.8L1178.8 868.2H1161.8Z" fill="#fff" stroke="#7a7a7a" stroke-width="1.7"/>
<path d="M1176.4 850.5L1184.9 867.0H1167.9Z" fill="#fff" stroke="#7a7a7a" stroke-width="1.7"/>
<path d="M1226.0 804.5L1234.5 821.0H1217.5Z" fill="#fff" stroke="#7a7a7a" stroke-width="1.7"/>
<path d="M1231.5 804.5L1240.0 821.0H1223.0Z" fill="#fff" stroke="#7a7a7a" stroke-width="1.7"/>
<path d="M1217.0 832.4L1225.5 848.9H1208.5Z" fill="#fff" stroke="#7a7a7a" stroke-width="1.7"/>
<path d="M1200.0 840.8L1208.5 857.2H1191.5Z" fill="#fff" stroke="#7a7a7a" stroke-width="1.7"/>
<path d="M1169.7 851.8L1178.2 868.2H1161.2Z" fill="#fff" stroke="#7a7a7a" stroke-width="1.7"/>
<path d="M1244.8 816.5L1253.3 833.0H1236.3Z" fill="#fff" stroke="#7a7a7a" stroke-width="1.7"/>
<path d="M1258.8 815.4L1267.3 831.9H1250.3Z" fill="#fff" stroke="#7a7a7a" stroke-width="1.7"/>
<path d="M1250.9 830.0L1259.4 846.5H1242.4Z" fill="#fff" stroke="#7a7a7a" stroke-width="1.7"/>
<path d="M1257.0 793.5L1265.5 810.0H1248.5Z" fill="#fff" stroke="#7a7a7a" stroke-width="1.7"/>
<path d="M1291.5 777.8L1300.0 794.2H1283.0Z" fill="#fff" stroke="#7a7a7a" stroke-width="1.7"/>
<path d="M1311.5 773.0L1320.0 789.5H1303.0Z" fill="#fff" stroke="#7a7a7a" stroke-width="1.7"/>
<path d="M1307.9 796.0L1316.4 812.5H1299.4Z" fill="#fff" stroke="#7a7a7a" stroke-width="1.7"/>
<path d="M1322.4 785.0L1330.9 801.5H1313.9Z" fill="#fff" stroke="#7a7a7a" stroke-width="1.7"/>
<path d="M1339.4 758.5L1347.9 775.0H1330.9Z" fill="#fff" stroke="#7a7a7a" stroke-width="1.7"/>
<path d="M1333.3 762.0L1341.8 778.5H1324.8Z" fill="#fff" stroke="#7a7a7a" stroke-width="1.7"/>
<path d="M1337.0 771.8L1345.5 788.2H1328.5Z" fill="#fff" stroke="#7a7a7a" stroke-width="1.7"/>
<path d="M1255.8 867.8L1264.3 884.2H1247.3Z" fill="#fff" stroke="#7a7a7a" stroke-width="1.7"/>
<path d="M1445.7 696.1L1454.2 712.6H1437.2Z" fill="#fff" stroke="#7a7a7a" stroke-width="1.7"/>
<path d="M1377.7 732.0L1386.2 748.5H1369.2Z" fill="#fff" stroke="#7a7a7a" stroke-width="1.7"/>
<path d="M1393.4 728.8L1401.9 745.2H1384.9Z" fill="#fff" stroke="#7a7a7a" stroke-width="1.7"/>
<path d="M1373.0 732.8L1381.5 749.2H1364.5Z" fill="#fff" stroke="#7a7a7a" stroke-width="1.7"/>
<path d="M1339.3 756.5L1347.8 773.0H1330.8Z" fill="#fff" stroke="#7a7a7a" stroke-width="1.7"/>
<path d="M1333.5 762.2L1342.0 778.8H1325.0Z" fill="#fff" stroke="#7a7a7a" stroke-width="1.7"/>
<line x1="161.1" y1="396.5" x2="700.3" y2="121.2" stroke="#000" stroke-width="3.4" stroke-linecap="round"/>
<line x1="217.4" y1="368.0" x2="605.3" y2="182.4" stroke="#7f7f7f" stroke-width="2.6" stroke-linecap="round"/>
<line x1="1096.3" y1="359.6" x2="1458.9" y2="130.3" stroke="#000" stroke-width="3.4" stroke-linecap="round"/>
<line x1="1133.2" y1="319.9" x2="1377.6" y2="175.5" stroke="#7f7f7f" stroke-width="2.6" stroke-linecap="round"/>
<line x1="128.3" y1="915.2" x2="640.9" y2="674.5" stroke="#000" stroke-width="3.4" stroke-linecap="round"/>
<line x1="132.8" y1="895.7" x2="589.2" y2="700.9" stroke="#7f7f7f" stroke-width="2.6" stroke-linecap="round"/>
<line x1="1005.8" y1="928.6" x2="1505.5" y2="695.4" stroke="#000" stroke-width="3.4" stroke-linecap="round"/>
<line x1="1005.8" y1="920.6" x2="1450.7" y2="720.4" stroke="#7f7f7f" stroke-width="2.6" stroke-linecap="round"/>
<circle cx="240.2" cy="79.3" r="8.3" fill="none" stroke="#000" stroke-width="2.3"/>
<text x="253.5" y="87.6" font-size="26" fill="#000" stroke="#000" stroke-width="0.8">OFA</text>
<path d="M328.4 72.5L337.0 87.5H319.8Z" fill="#fff" stroke="#7a7a7a" stroke-width="1.6"/>
<text x="343.3" y="87.6" font-size="26" fill="#000" stroke="#000" stroke-width="0.8">TFA</text>
<circle cx="1180.9" cy="76.1" r="8.3" fill="none" stroke="#000" stroke-width="2.3"/>
<text x="1194.6" y="83.8" font-size="26" fill="#000" stroke="#000" stroke-width="0.8">OFA</text>
<path d="M1271.7 68.7L1280.2 83.7H1263.2Z" fill="#fff" stroke="#7a7a7a" stroke-width="1.6"/>
<text x="1287.3" y="83.8" font-size="26" fill="#000" stroke="#000" stroke-width="0.8">TFA</text>
<circle cx="199.1" cy="661.2" r="8.3" fill="none" stroke="#000" stroke-width="2.3"/>
<text x="211.7" y="669.5" font-size="26" fill="#000" stroke="#000" stroke-width="0.8">OFA</text>
<path d="M286.4 654.4L295.0 669.4H277.8Z" fill="#fff" stroke="#7a7a7a" stroke-width="1.6"/>
<text x="303.3" y="669.5" font-size="26" fill="#000" stroke="#000" stroke-width="0.8">TFA</text>
<circle cx="1099.5" cy="654.6" r="8.3" fill="none" stroke="#000" stroke-width="2.3"/>
<text x="1112.7" y="663.4" font-size="26" fill="#000" stroke="#000" stroke-width="0.8">OFA</text>
<path d="M1187.7 648.3L1196.7 663.3H1178.6Z" fill="#fff" stroke="#7a7a7a" stroke-width="1.6"/>
<text x="1203.3" y="663.4" font-size="26" fill="#000" stroke="#000" stroke-width="0.8">TFA</text>
<text x="183.3" y="170.5" font-size="26" fill="#000" textLength="222.8" lengthAdjust="spacing" stroke="#000" stroke-width="0.6">y = 4.7409x - 35.886</text>
<text x="232.0" y="201.8" font-size="26" fill="#000" stroke="#000" stroke-width="0.6" textLength="125.4" lengthAdjust="spacing">R² = 0.9853</text>
<text x="471.9" y="316.5" font-size="26" fill="#5e5e5e" textLength="221.3" lengthAdjust="spacing" stroke="#5e5e5e" stroke-width="0.6">y = 4.4445x - 30.513</text>
<text x="519.9" y="348.2" font-size="26" fill="#5e5e5e" stroke="#5e5e5e" stroke-width="0.6" textLength="126.1" lengthAdjust="spacing">R² = 0.9645</text>
<text x="998.2" y="127.5" font-size="26" fill="#000" textLength="222.5" lengthAdjust="spacing" stroke="#000" stroke-width="0.6">y = 26.402x - 527.98</text>
<text x="1046.7" y="160.2" font-size="26" fill="#000" stroke="#000" stroke-width="0.6" textLength="126.0" lengthAdjust="spacing">R² = 0.7784</text>
<text x="1304.0" y="336.5" font-size="26" fill="#5e5e5e" textLength="207.6" lengthAdjust="spacing" stroke="#5e5e5e" stroke-width="0.6">y = 24.681x - 470.1</text>
<text x="1347.0" y="368.2" font-size="26" fill="#5e5e5e" stroke="#5e5e5e" stroke-width="0.6" textLength="124.6" lengthAdjust="spacing">R² = 0.6511</text>
<text x="110.8" y="710.9" font-size="26" fill="#000" textLength="223.3" lengthAdjust="spacing" stroke="#000" stroke-width="0.6">y = 0.0242x - 0.3478</text>
<text x="159.5" y="743.6" font-size="26" fill="#000" stroke="#000" stroke-width="0.6" textLength="126.5" lengthAdjust="spacing">R² = 0.9598</text>
<text x="441.3" y="894.5" font-size="26" fill="#5e5e5e" textLength="216.7" lengthAdjust="spacing" stroke="#5e5e5e" stroke-width="0.6">y = 0.022x + 0.3128</text>
<text x="486.0" y="925.9" font-size="26" fill="#5e5e5e" stroke="#5e5e5e" stroke-width="0.6" textLength="126.1" lengthAdjust="spacing">R² = 0.8294</text>
<text x="1028.1" y="705.6" font-size="26" fill="#000" textLength="210.9" lengthAdjust="spacing" stroke="#000" stroke-width="0.6">y = 0.898x - 21.908</text>
<text x="1071.0" y="737.9" font-size="26" fill="#000" stroke="#000" stroke-width="0.6" textLength="124.7" lengthAdjust="spacing">R² = 0.9721</text>
<text x="1332.4" y="896.1" font-size="26" fill="#5e5e5e" textLength="222.2" lengthAdjust="spacing" stroke="#5e5e5e" stroke-width="0.6">y = 0.8661x - 11.197</text>
<text x="1380.9" y="927.9" font-size="26" fill="#5e5e5e" stroke="#5e5e5e" stroke-width="0.6" textLength="126.0" lengthAdjust="spacing">R² = 0.9337</text>
<text x="823.5" y="560.5" font-size="14" font-weight="bold" fill="#000" stroke="#000" stroke-width="0.6">.</text>
</svg>
</body></html>
